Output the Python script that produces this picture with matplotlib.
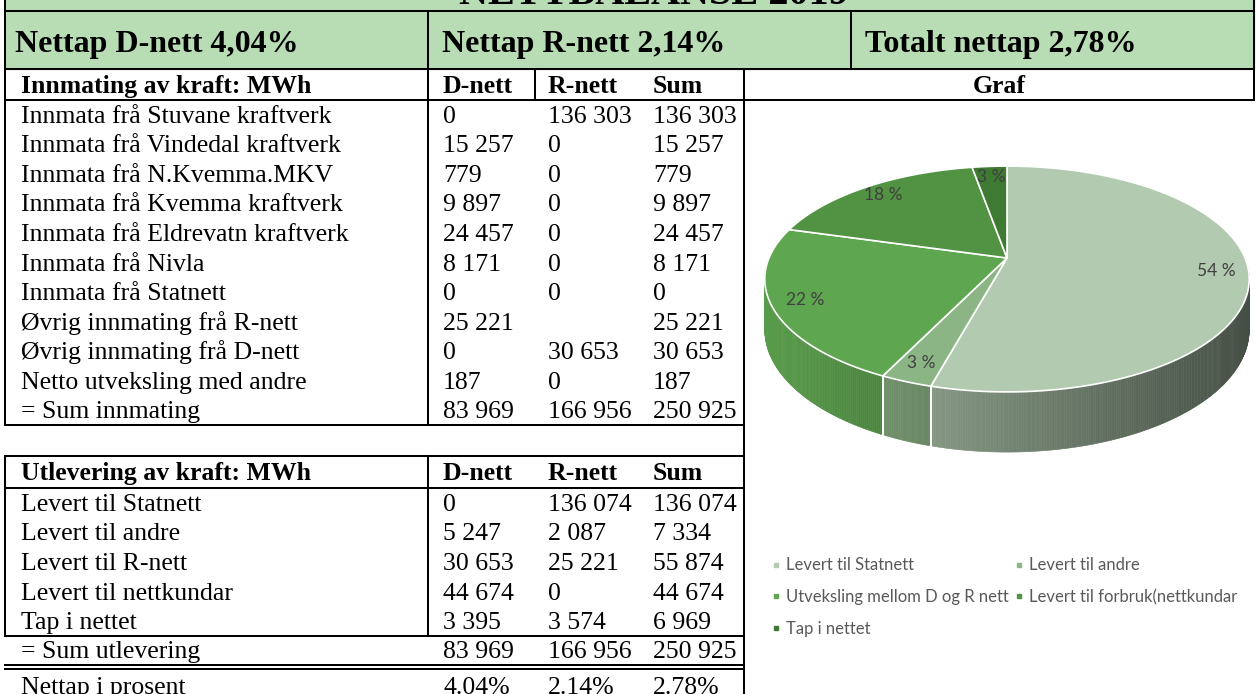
"""Nettbalanse 2019 - table with a 3D pie of delivered power."""
import matplotlib

matplotlib.use("Agg")
import matplotlib.pyplot as plt
import numpy as np
from matplotlib.collections import PolyCollection
from matplotlib.lines import Line2D
from matplotlib.patches import Rectangle

plt.rcParams.update({"font.family": "Liberation Serif", "font.size": 18.5})

W, H, DPI = 1258, 694, 100

# ---- data -------------------------------------------------------------
title = "NETTBALANSE 2019"

inn_labels = [
    "Innmata frå Stuvane kraftverk",
    "Innmata frå Vindedal kraftverk",
    "Innmata frå N.Kvemma.MKV",
    "Innmata frå Kvemma kraftverk",
    "Innmata frå Eldrevatn kraftverk",
    "Innmata frå Nivla",
    "Innmata frå Statnett",
    "Øvrig innmating frå R-nett",
    "Øvrig innmating frå D-nett",
    "Netto utveksling med andre",
]
inn_d = [0, 15257, 779, 9897, 24457, 8171, 0, 25221, 0, 187]
inn_r = [136303, 0, 0, 0, 0, 0, 0, None, 30653, 0]
inn_sum = [136303, 15257, 779, 9897, 24457, 8171, 0, 25221, 30653, 187]

ut_labels = [
    "Levert til Statnett",
    "Levert til andre",
    "Levert til R-nett",
    "Levert til nettkundar",
    "Tap i nettet",
]
ut_d = [0, 5247, 30653, 44674, 3395]
ut_r = [136074, 2087, 25221, 0, 3574]
ut_sum = [136074, 7334, 55874, 44674, 6969]

pie_labels = [
    "Levert til Statnett",
    "Levert til andre",
    "Utveksling mellom D og R nett",
    "Levert til forbruk(nettkundar",
    "Tap i nettet",
]
pie_colors = ["#b2cbb0", "#8cb585", "#5ea64f", "#519343", "#3f7a32"]

GREEN = "#b8ddb5"
LW = 1.45


def fmt(v):
    return "" if v is None else f"{v:,}".replace(",", " ")


def total(col):
    return sum(v for v in col if v is not None)


inn_tot = [total(inn_d), total(inn_r), total(inn_sum)]
ut_tot = [total(ut_d), total(ut_r), total(ut_sum)]
loss = [100 * ut_d[-1] / ut_tot[0], 100 * ut_r[-1] / ut_tot[1], 100 * ut_sum[-1] / ut_tot[2]]

# ---- table --------------------------------------------------------------
fig = plt.figure(figsize=(W / DPI, H / DPI), dpi=DPI)
ax = fig.add_axes([0, 0, 1, 1])
ax.set_xlim(0, W)
ax.set_ylim(H, 0)
ax.axis("off")

X_L, X_NAME, X_DR, X_TAB, X_TOT, X_R = 5, 428, 535, 744, 851, 1254
TX = [21, 443, 548, 653]

ax.add_patch(Rectangle((X_L, 0), X_R - X_L, 69, color=GREEN, zorder=0))


def hline(y, x0=X_L, x1=X_TAB):
    ax.plot([x0, x1], [y, y], color="black", lw=LW, solid_capstyle="projecting")


def vline(x, y0, y1):
    ax.plot([x, x], [y0, y1], color="black", lw=LW, solid_capstyle="projecting")


for y in (11, 69, 100):
    hline(y, X_L, X_R)
for y in (425, 456, 488, 636, 665, 669):
    hline(y)
vline(X_L, 0, 425)
vline(X_L, 456, 636)
vline(X_NAME, 11, 425)
vline(X_NAME, 456, 636)
vline(X_DR, 69, 100)
vline(X_TAB, 69, H)
vline(X_TOT, 11, 69)
vline(X_R, 0, 100)

ax.text(654, 4, title, ha="center", va="baseline", fontsize=29, fontweight="bold")
head_kw = dict(fontsize=23, fontweight="bold", va="baseline")
ax.text(15, 52, f"Nettap D-nett {loss[0]:.2f}%".replace(".", ","), **head_kw)
ax.text(442, 52, f"Nettap R-nett {loss[1]:.2f}%".replace(".", ","), **head_kw)
ax.text(865, 52, f"Totalt nettap {loss[2]:.2f}%".replace(".", ","), **head_kw)


def row(y, cells, bold=False):
    for x, s in zip(TX, cells):
        ax.text(x, y + 8, s, va="baseline", fontweight="bold" if bold else "normal")


row(85, ["Innmating av kraft: MWh", "D-nett", "R-nett", "Sum"], bold=True)
ax.text((X_TAB + X_R) / 2, 93, "Graf", ha="center", va="baseline", fontweight="bold")
pitch = (425 - 100) / 11
for i, lab in enumerate(inn_labels):
    row(100 + (i + 0.5) * pitch, [lab, fmt(inn_d[i]), fmt(inn_r[i]), fmt(inn_sum[i])])
row(100 + 10.5 * pitch, ["= Sum innmating"] + [fmt(v) for v in inn_tot])

row(472, ["Utlevering av kraft: MWh", "D-nett", "R-nett", "Sum"], bold=True)
pitch = (636 - 488) / 5
for i, lab in enumerate(ut_labels):
    row(488 + (i + 0.5) * pitch, [lab, fmt(ut_d[i]), fmt(ut_r[i]), fmt(ut_sum[i])])
row(650, ["= Sum utlevering"] + [fmt(v) for v in ut_tot])
row(686, ["Nettap i prosent"] + [f"{v:.2f}%" for v in loss])

# ---- 3D pie -------------------------------------------------------------
CX, CY = 1007, 258          # apex in pixels
A, S = 238, 109             # pixels per pie unit (x, y)
P = 0.186                   # perspective strength
DEPTH = 49 / S              # side height in y units
box = (747, 140, 1258, 470)  # left, top, right, bottom in pixels
pax = fig.add_axes([box[0] / W, 1 - box[3] / H, (box[2] - box[0]) / W, (box[3] - box[1]) / H])
pax.set_xlim((box[0] - CX) / A, (box[2] - CX) / A)
pax.set_ylim(-(box[3] - CY) / S, (CY - box[1]) / S)
pax.axis("off")
pax.patch.set_alpha(0)


def proj(t_deg, r=1.0):
    t = np.radians(t_deg)
    u, v = r * np.cos(t), r * np.sin(t)
    k = 1 / (1 + P * v)
    return u * k, v * k, k


vals = np.array(ut_sum, dtype=float)
fr = vals / vals.sum()
bounds = 90 - 360 * np.concatenate([[0], np.cumsum(fr)])

# sides (front half only)
polys, cols = [], []
seams = []
for i in range(len(vals)):
    hi, lo = bounds[i], bounds[i + 1]
    for off in (0, -360):
        a0, a1 = max(lo, -180 + off), min(hi, 0 + off)
        if a1 <= a0:
            continue
        ts = np.linspace(a1, a0, max(2, int((a1 - a0) * 2) + 1))
        base = np.array(matplotlib.colors.to_rgb(pie_colors[i]))
        for ta, tb in zip(ts[:-1], ts[1:]):
            xa, ya, ka = proj(ta)
            xb, yb, kb = proj(tb)
            polys.append([(xa, ya), (xb, yb), (xb, yb - DEPTH * kb), (xa, ya - DEPTH * ka)])
            shade = np.clip(0.66 - 0.27 * (xa + xb) / 2, 0, 1)
            cols.append(base * shade)
        for b in (hi, lo):
            if -180 + off < b < off:
                seams.append(b)
pax.add_collection(PolyCollection(polys, facecolors=cols, edgecolors=cols, linewidths=0.4, zorder=1))
for b in seams:
    x, y, k = proj(b)
    pax.plot([x, x], [y, y - DEPTH * k], color="white", lw=1.3, zorder=1.5)

# top faces
for i in range(len(vals)):
    ts = np.linspace(bounds[i], bounds[i + 1], max(3, int(abs(bounds[i] - bounds[i + 1]) * 2)))
    x, y, _ = proj(ts)
    pax.fill(np.r_[0, x], np.r_[0, y], facecolor=pie_colors[i], edgecolor="white", lw=1.2,
             joinstyle="round", zorder=2)
    mx, my, _ = proj((bounds[i] + bounds[i + 1]) / 2, 0.87)
    pax.text(mx, my, f"{100 * fr[i]:.0f} %", ha="center", va="center", family="Lato",
             fontsize=12.5, color="#404040", zorder=3)

# legend, filled row by row like the reference
order = [0, 2, 4, 1, 3]
handles = [Line2D([], [], ls="none", marker="s", markersize=3.5, color=pie_colors[i]) for i in order]
ax.legend(handles, [pie_labels[i] for i in order], ncol=2, loc="upper left",
          bbox_to_anchor=(763, 549), bbox_transform=ax.transData, frameon=False,
          prop={"family": "Lato", "size": 12}, labelcolor="#595959", borderpad=0,
          handlelength=0.5, handletextpad=0.35, columnspacing=0.4, labelspacing=0.95)

fig.savefig("out.png", dpi=DPI)
